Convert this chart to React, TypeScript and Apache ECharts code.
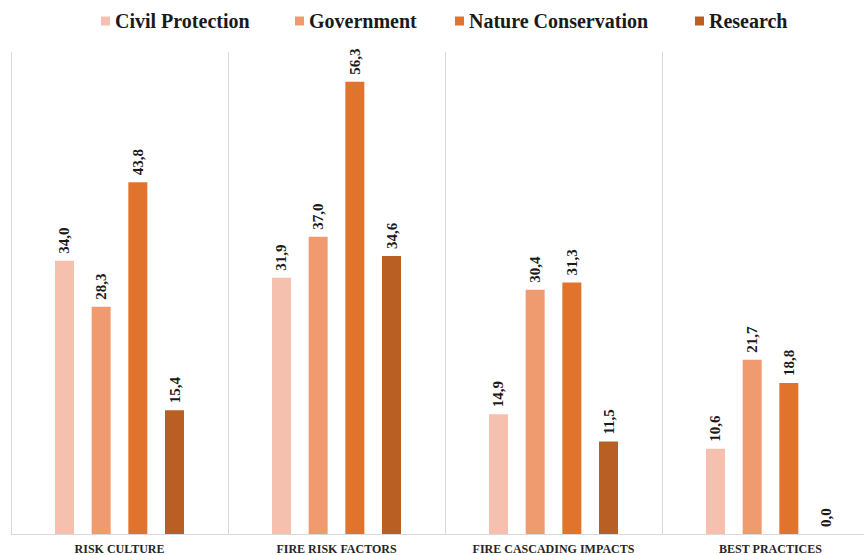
import React, { useEffect, useRef } from "react";
import * as echarts from "echarts";

const categories = ["RISK CULTURE", "FIRE RISK FACTORS", "FIRE CASCADING IMPACTS", "BEST PRACTICES"];
const seriesNames = ["Civil Protection", "Government", "Nature Conservation", "Research"];
const civilProtection = [34.0, 31.9, 14.9, 10.6];
const government = [28.3, 37.0, 30.4, 21.7];
const natureConservation = [43.8, 56.3, 31.3, 18.8];
const research = [15.4, 34.6, 11.5, 0.0];
const colors = ["#f5c1ae", "#f09a70", "#e0742d", "#b95f24"];
const legendLefts = [101, 295, 455, 695];

const FONT = "'Liberation Serif', 'Times New Roman', serif";

export default function App() {
  const ref = useRef<HTMLDivElement>(null);
  useEffect(() => {
    document.body.style.margin = "0";
    if (!ref.current) return;
    const chart = echarts.init(ref.current, null, { renderer: "svg" });
    const values = [civilProtection, government, natureConservation, research];
    chart.setOption({
      animation: false,
      backgroundColor: "#ffffff",
      color: colors,
      legend: seriesNames.map((name, i) => ({
        top: 11,
        left: legendLefts[i],
        itemWidth: 9,
        itemHeight: 9,
        icon: "rect",
        padding: 0,
        textStyle: { fontFamily: FONT, fontWeight: "bold", fontSize: 20, color: "#1a1a1a", padding: [0, 0, 0, 0] },
        data: [name],
      })),
      grid: { left: 11, top: 52, width: 868, height: 483, containLabel: false },
      xAxis: {
        type: "category",
        data: categories,
        axisLine: { show: true, lineStyle: { color: "#d9d9d9", width: 1 } },
        axisTick: { show: false },
        splitLine: { show: true, lineStyle: { color: "#d9d9d9", width: 1 } },
        axisLabel: { fontFamily: FONT, fontWeight: "bold", fontSize: 12, color: "#262626", margin: 9 },
      },
      yAxis: {
        type: "value",
        min: 0,
        max: 60,
        show: false,
        splitLine: { show: false },
      },
      series: seriesNames.map((name, i) => ({
        name,
        type: "bar",
        data: values[i],
        barWidth: 19,
        barGap: "93%",
        itemStyle: { color: colors[i] },
        label: {
          show: true,
          position: "top",
          rotate: 90,
          align: "left",
          verticalAlign: "middle",
          distance: 7,
          fontFamily: FONT,
          fontWeight: "bold",
          fontSize: 15,
          color: "#1a1a1a",
          formatter: (p: any) => Number(p.value).toFixed(1).replace(".", ","),
        },
      })),
    });
    return () => chart.dispose();
  }, []);
  return (
    <div style={{ width: 864, height: 555, overflow: "hidden", position: "relative" }}>
      <div ref={ref} style={{ width: 880, height: 555 }} />
    </div>
  );
}
